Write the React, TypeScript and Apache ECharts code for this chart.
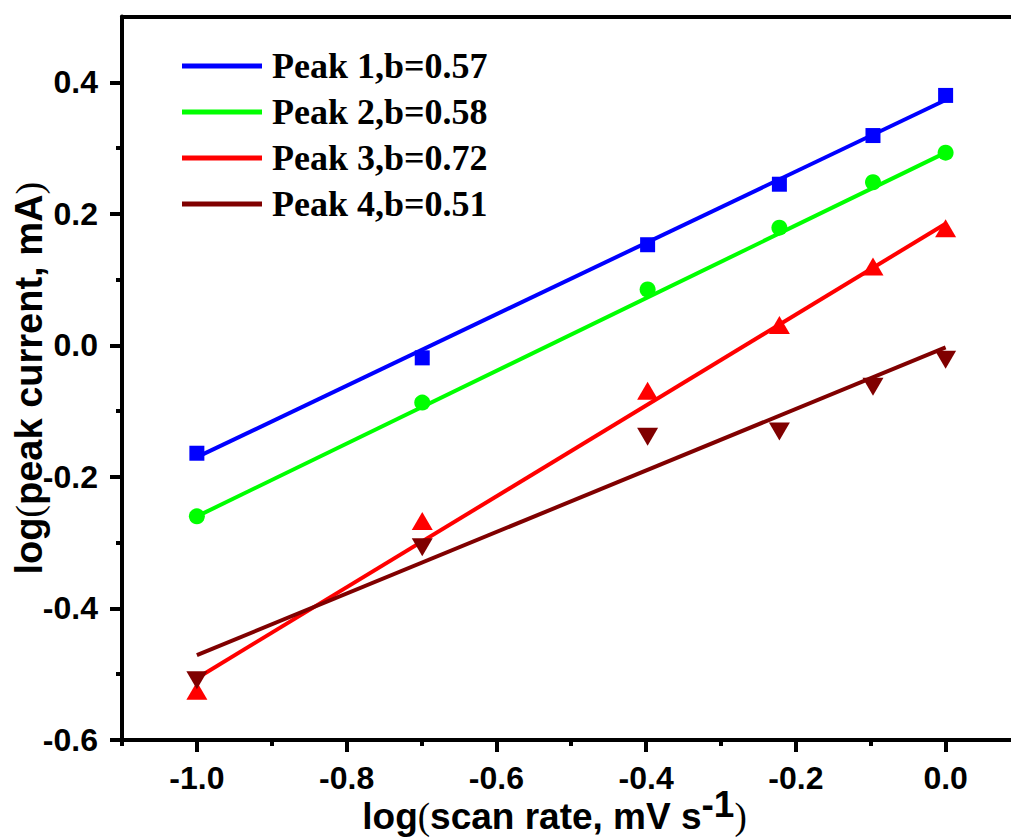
import React, { useEffect, useRef } from "react";
import * as echarts from "echarts";

// log10 of scan rates 0.1, 0.2, 0.4, 0.6, 0.8, 1.0 mV/s
const logScanRate = [-1.0, -0.699, -0.398, -0.222, -0.097, 0.0];

const peak1 = [-0.164, -0.019, 0.153, 0.245, 0.319, 0.38];
const peak2 = [-0.26, -0.087, 0.085, 0.179, 0.248, 0.293];
const peak3 = [-0.525, -0.267, -0.069, 0.031, 0.12, 0.178];
const peak4 = [-0.509, -0.307, -0.139, -0.131, -0.063, -0.022];

// fitted lines, endpoints
const fitX = [-1.0, 0.0];
const fit1 = [-0.17, 0.373];
const fit2 = [-0.26, 0.293];
const fit3 = [-0.506, 0.185];
const fit4 = [-0.471, -0.003];

const legendNames = ["Peak 1,b=0.57", "Peak 2,b=0.58", "Peak 3,b=0.72", "Peak 4,b=0.51"];
const colors = ["#0000ff", "#00ff00", "#ff0000", "#800000"];

const xMajor = [-1.0, -0.8, -0.6, -0.4, -0.2, 0.0];
const xMinor = [-1.1, -0.9, -0.7, -0.5, -0.3, -0.1];
const yMajor = [-0.6, -0.4, -0.2, 0.0, 0.2, 0.4];
const yMinor = [-0.5, -0.3, -0.1, 0.1, 0.3];

const pts = (xs: number[], ys: number[]) => xs.map((x, i) => [x, ys[i]]);

export default function App() {
  const ref = useRef<HTMLDivElement>(null);
  useEffect(() => {
    const chart = echarts.init(ref.current!, null, { renderer: "svg" });
    const sans = "Liberation Sans, Arial, sans-serif";
    const serif = "Liberation Serif, Times New Roman, serif";
    const axisLine = { show: true, onZero: false, lineStyle: { color: "#000", width: 4 } };
    const noLine = { show: false, onZero: false };
    const labelStyle = {
      fontFamily: sans,
      fontWeight: "bold" as const,
      fontSize: 32,
      color: "#000",
      formatter: (v: number) => v.toFixed(1),
    };
    const mkRich = (fs: number) => ({
      a: { fontFamily: sans, fontWeight: "bold", fontSize: fs, color: "#000", lineHeight: fs + 12, verticalAlign: "bottom" },
      b: { fontFamily: serif, fontWeight: "normal", fontSize: fs, color: "#000", lineHeight: fs + 10, verticalAlign: "bottom" },
      s: { fontFamily: sans, fontWeight: "bold", fontSize: fs, color: "#000", lineHeight: fs, verticalAlign: "top" },
    });
    const xMin = -1.1, xMax = 0.09, yMin = -0.6, yMax = 0.5;
    const fitSeries = [fit1, fit2, fit3, fit4].map((f, i) => ({
      name: legendNames[i],
      type: "line",
      data: pts(fitX, f),
      symbol: "none",
      lineStyle: { color: colors[i], width: 4 },
      itemStyle: { color: colors[i] },
      z: 2,
    }));
    const markerDefs: any[] = [
      { symbol: "rect", symbolSize: 15, symbolRotate: 0 },
      { symbol: "circle", symbolSize: 16, symbolRotate: 0 },
      { symbol: "triangle", symbolSize: [21, 18], symbolRotate: 0 },
      { symbol: "triangle", symbolSize: [21, 18], symbolRotate: 180 },
    ];
    const scatterSeries = [peak1, peak2, peak3, peak4].map((p, i) => ({
      name: "data" + (i + 1),
      type: "scatter",
      data: pts(logScanRate, p),
      symbol: markerDefs[i].symbol,
      symbolSize: markerDefs[i].symbolSize,
      symbolRotate: markerDefs[i].symbolRotate,
      itemStyle: { color: colors[i], opacity: 1 },
      z: 3,
    }));
    chart.setOption({
      animation: false,
      backgroundColor: "#fff",
      grid: { left: 122, right: -2, top: 16.5, bottom: 99, containLabel: false, outerBoundsMode: "none" },
      legend: {
        data: legendNames,
        orient: "vertical",
        left: 177,
        top: 43,
        icon: "rect",
        itemWidth: 80,
        itemHeight: 5,
        itemGap: 10,
        textStyle: {
          fontFamily: serif,
          fontWeight: "bold",
          fontSize: 36,
          color: "#000",
          lineHeight: 36,
          padding: [0, 0, 0, 5],
        },
      },
      xAxis: [
        {
          type: "value",
          min: xMin,
          max: xMax,
          position: "bottom",
          axisLine,
          axisTick: { show: true, customValues: xMajor, length: 12, lineStyle: { width: 4, color: "#000" } },
          axisLabel: { ...labelStyle, customValues: xMajor, margin: 22 },
          splitLine: { show: false },
          name: "{a|log}{b|(}{a|scan rate, mV s}{s|-1}{b|)}",
          nameLocation: "middle",
          nameGap: 46,
          nameMoveOverlap: false,
          nameTextStyle: { rich: mkRich(37), padding: [0, 26, 0, 0] },
        },
        {
          type: "value",
          min: xMin,
          max: xMax,
          position: "bottom",
          axisLine: noLine,
          axisTick: { show: true, customValues: xMinor, length: 6, lineStyle: { width: 4, color: "#000" } },
          axisLabel: { show: false },
          splitLine: { show: false },
        },
        {
          type: "value",
          min: xMin,
          max: xMax,
          position: "top",
          axisLine,
          axisTick: { show: false },
          axisLabel: { show: false },
          splitLine: { show: false },
        },
      ],
      yAxis: [
        {
          type: "value",
          min: yMin,
          max: yMax,
          position: "left",
          axisLine,
          axisTick: { show: true, customValues: yMajor, length: 12, lineStyle: { width: 4, color: "#000" } },
          axisLabel: { ...labelStyle, customValues: yMajor, margin: 24 },
          splitLine: { show: false },
          name: "{a|log}{b|(}{a|peak current, mA}{b|)}",
          nameLocation: "middle",
          nameGap: 74,
          nameMoveOverlap: false,
          nameTextStyle: { rich: mkRich(38) },
        },
        {
          type: "value",
          min: yMin,
          max: yMax,
          position: "left",
          axisLine: noLine,
          axisTick: { show: true, customValues: yMinor, length: 6, lineStyle: { width: 4, color: "#000" } },
          axisLabel: { show: false },
          splitLine: { show: false },
        },
      ],
      series: [...fitSeries, ...scatterSeries],
    });
    return () => chart.dispose();
  }, []);
  return (
    <div
      ref={ref}
      style={{ position: "fixed", left: 0, top: 0, width: 1011, height: 839, background: "#fff" }}
    />
  );
}
